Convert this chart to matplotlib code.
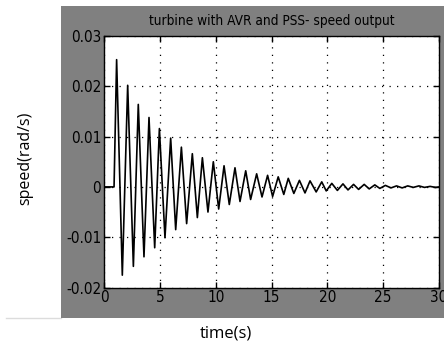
import matplotlib
matplotlib.use("Agg")
import matplotlib.pyplot as plt
from matplotlib.patches import Rectangle
from matplotlib.lines import Line2D
from matplotlib import font_manager as fm

# extrema of the speed response (time s, speed rad/s)
time_s = [0.0, 0.9, 1.13, 1.64, 2.12, 2.63, 3.07, 3.58, 4.03, 4.54, 4.96, 5.46,
          5.97, 6.42, 6.93, 7.40, 7.91, 8.36, 8.81, 9.31, 9.79, 10.27, 10.75,
          11.22, 11.73, 12.18, 12.69, 13.13, 13.67, 14.15, 14.65, 15.10, 15.60,
          16.10, 16.50, 17.00, 17.50, 18.00, 18.45, 19.00, 19.50, 19.90, 20.40,
          20.90, 21.40, 21.85, 22.35, 22.80, 23.30, 23.75, 24.25, 24.70, 25.20,
          25.70, 26.20, 26.70, 27.20, 27.70, 28.20, 28.70, 29.20, 29.70, 30.0]
speed = [0.0, 0.0, 0.0253, -0.01755, 0.0202, -0.0158, 0.0164, -0.0139, 0.0138,
         -0.0121, 0.0116, -0.0101, 0.0097, -0.0085, 0.0079, -0.0073, 0.0066,
         -0.0061, 0.0058, -0.0050, 0.0050, -0.0044, 0.0042, -0.0035, 0.0038,
         -0.0029, 0.0032, -0.0025, 0.0026, -0.0020, 0.0023, -0.0019, 0.0020,
         -0.0015, 0.0017, -0.0013, 0.0013, -0.0012, 0.0012, -0.0010, 0.0010,
         -0.0008, 0.0007, -0.0007, 0.0006, -0.0006, 0.0005, -0.0005, 0.0005,
         -0.0004, 0.0004, -0.0003, 0.0003, -0.0002, 0.0002, -0.0002, 0.0002,
         -0.0001, 0.0002, -0.0001, 0.0001, -0.0001, 0.0]

x_ticks = [0, 5, 10, 15, 20, 25, 30]
y_ticks = [-0.02, -0.01, 0, 0.01, 0.02, 0.03]
y_labels = ["-0.02", "-0.01", "0", "0.01", "0.02", "0.03"]
title = "turbine with AVR and PSS- speed output"

W, H = 444, 346
fig = plt.figure(figsize=(W / 100, H / 100), dpi=100)
fig.patch.set_facecolor("white")

# gray MATLAB figure panel
fig.patches.append(Rectangle((61 / W, (H - 318) / H), (W - 61) / W, (318 - 6) / H,
                             transform=fig.transFigure, facecolor="#808080",
                             edgecolor="none", zorder=-10))
fig.lines.append(Line2D([6 / W, 61 / W], [(H - 317.5) / H] * 2,
                        transform=fig.transFigure, color="#dcdcdc", lw=1,
                        zorder=-10))

tick_fp = fm.FontProperties(family="DejaVu Sans", stretch="condensed", size=11)
title_fp = fm.FontProperties(family="DejaVu Sans", stretch="condensed", size=9.8)

ax = fig.add_axes([104 / W, (H - 287.5) / H, (439 - 104) / W, (287.5 - 36) / H])
ax.set_zorder(5)
ax.set_facecolor("white")
ax.plot(time_s, speed, color="black", lw=1.2)
ax.set_xlim(0, 30)
ax.set_ylim(-0.02, 0.03)
ax.set_xticks(x_ticks)
ax.set_xticklabels([str(v) for v in x_ticks], fontproperties=tick_fp)
ax.set_yticks(y_ticks)
ax.set_yticklabels(y_labels, fontproperties=tick_fp)
ax.tick_params(direction="in", length=4, width=1, top=True, right=True,
               pad=2, colors="black")
ax.grid(True, color="black", linestyle=(0, (1, 5)), lw=0.9)
for s in ax.spines.values():
    s.set_color("black")
    s.set_linewidth(1)
ax.set_title(title, fontproperties=title_fp, pad=8)

fig.text(226 / W, (H - 334) / H, "time(s)", ha="center", va="center",
         fontsize=12, family=["Open Sans", "DejaVu Sans"])
fig.text(25 / W, (H - 158) / H, "speed(rad/s)", ha="center", va="center",
         rotation=90, fontsize=11.5, family=["Open Sans", "DejaVu Sans"])

fig.savefig("out.png", dpi=100)
